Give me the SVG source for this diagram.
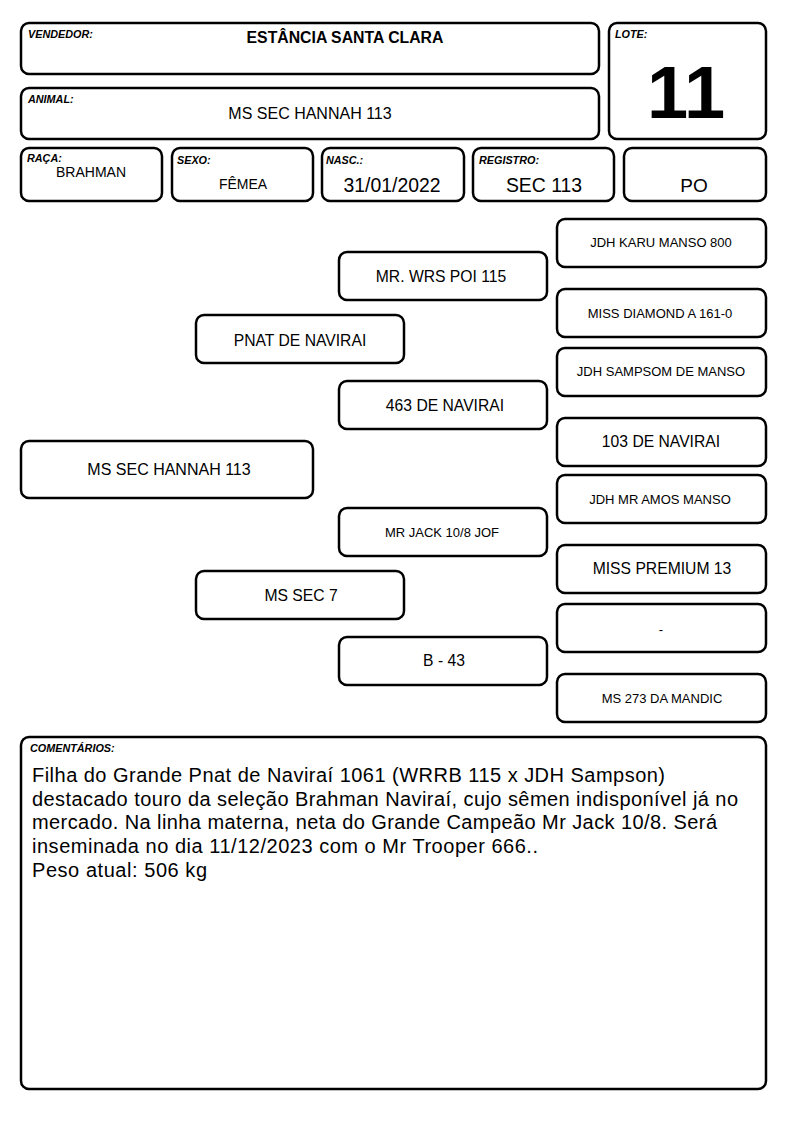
<svg xmlns="http://www.w3.org/2000/svg" width="794" height="1123" viewBox="0 0 794 1123">
<style>
.b{fill:#fff;stroke:#000;stroke-width:2.5}
.l{font-family:"Liberation Sans",Arial,sans-serif;font-size:10.8px;font-weight:bold;font-style:italic}
.t{font-family:"Liberation Sans",Arial,sans-serif;text-anchor:middle;fill:#000}
.m{font-size:15.7px}
.s{font-size:13px}
.c{font-family:"Liberation Sans",Arial,sans-serif;font-size:20px;fill:#000}
</style>
<rect width="794" height="1123" fill="#fff"/>
<g id="vendedor"><rect class="b" x="21" y="23" width="578" height="51" rx="8"/><text class="l" x="28" y="38">VENDEDOR:</text><text class="t" x="345" y="43" font-size="15.8" font-weight="bold">ESTÂNCIA SANTA CLARA</text></g>
<g id="animal"><rect class="b" x="21" y="88" width="578" height="51" rx="8"/><text class="l" x="28" y="103">ANIMAL:</text><text class="t" x="310" y="119" font-size="16">MS SEC HANNAH 113</text></g>
<g id="lote"><rect class="b" x="609" y="23" width="157" height="116" rx="8"/><text class="l" x="615" y="38">LOTE:</text><text class="t" x="686" y="118" font-size="74" font-weight="bold">11</text></g>
<g id="raca"><rect class="b" x="21" y="148" width="141" height="53" rx="8"/><text class="l" x="27" y="162">RAÇA:</text><text class="t" x="91" y="177" font-size="14">BRAHMAN</text></g>
<g id="sexo"><rect class="b" x="172" y="148" width="141" height="53" rx="8"/><text class="l" x="177" y="164">SEXO:</text><text class="t" x="243" y="189" font-size="14">FÊMEA</text></g>
<g id="nasc"><rect class="b" x="322" y="148" width="142" height="53" rx="8"/><text class="l" x="326" y="164">NASC.:</text><text class="t" x="392" y="192" font-size="19.4">31/01/2022</text></g>
<g id="registro"><rect class="b" x="473" y="148" width="141" height="53" rx="8"/><text class="l" x="479" y="164">REGISTRO:</text><text class="t" x="544" y="192" font-size="19.4">SEC 113</text></g>
<g id="po"><rect class="b" x="624" y="148" width="142" height="53" rx="8"/><text class="t" x="694" y="192" font-size="19">PO</text></g>

<g id="animal-ped"><rect class="b" x="21" y="441" width="292" height="57" rx="8"/><text class="t" x="169" y="475" font-size="16">MS SEC HANNAH 113</text></g>
<g id="pai"><rect class="b" x="196" y="315" width="208" height="48" rx="8"/><text class="t m" x="300" y="346">PNAT DE NAVIRAI</text></g>
<g id="mae"><rect class="b" x="196" y="571" width="208" height="48" rx="8"/><text class="t m" x="301" y="601">MS SEC 7</text></g>
<g id="avo1"><rect class="b" x="339" y="252" width="208" height="48" rx="8"/><text class="t m" x="441" y="282">MR. WRS POI 115</text></g>
<g id="avo2"><rect class="b" x="339" y="381" width="208" height="48" rx="8"/><text class="t m" x="445" y="411">463 DE NAVIRAI</text></g>
<g id="avo3"><rect class="b" x="339" y="508" width="208" height="48" rx="8"/><text class="t s" x="442" y="537">MR JACK 10/8 JOF</text></g>
<g id="avo4"><rect class="b" x="339" y="637" width="208" height="48" rx="8"/><text class="t m" x="444" y="666">B - 43</text></g>
<g id="bisavo1"><rect class="b" x="557" y="219" width="209" height="48" rx="8"/><text class="t s" x="661" y="247">JDH KARU MANSO 800</text></g>
<g id="bisavo2"><rect class="b" x="557" y="289" width="209" height="48" rx="8"/><text class="t s" x="660" y="318">MISS DIAMOND A 161-0</text></g>
<g id="bisavo3"><rect class="b" x="557" y="348" width="209" height="48" rx="8"/><text class="t s" x="661" y="376">JDH SAMPSOM DE MANSO</text></g>
<g id="bisavo4"><rect class="b" x="557" y="418" width="209" height="48" rx="8"/><text class="t m" x="661" y="447">103 DE NAVIRAI</text></g>
<g id="bisavo5"><rect class="b" x="557" y="475" width="209" height="48" rx="8"/><text class="t s" x="660" y="504">JDH MR AMOS MANSO</text></g>
<g id="bisavo6"><rect class="b" x="557" y="545" width="209" height="48" rx="8"/><text class="t m" x="662" y="574">MISS PREMIUM 13</text></g>
<g id="bisavo7"><rect class="b" x="557" y="604" width="209" height="48" rx="8"/><text class="t s" x="661" y="634">-</text></g>
<g id="bisavo8"><rect class="b" x="557" y="674" width="209" height="48" rx="8"/><text class="t s" x="662" y="703">MS 273 DA MANDIC</text></g>
<g id="connectors"></g>

<g id="comentarios"><rect class="b" x="21" y="737" width="745" height="352" rx="8"/><text class="l" x="30" y="752">COMENTÁRIOS:</text>
<text class="c" x="32" y="782" textLength="633">Filha do Grande Pnat de Naviraí 1061 (WRRB 115 x JDH Sampson)</text>
<text class="c" x="32" y="806" textLength="706">destacado touro da seleção Brahman Naviraí, cujo sêmen indisponível já no</text>
<text class="c" x="32" y="829" textLength="685">mercado. Na linha materna, neta do Grande Campeão Mr Jack 10/8. Será</text>
<text class="c" x="32" y="853" textLength="506">inseminada no dia 11/12/2023 com o Mr Trooper 666..</text>
<text class="c" x="32" y="877" textLength="175">Peso atual: 506 kg</text>
</g>
</svg>
